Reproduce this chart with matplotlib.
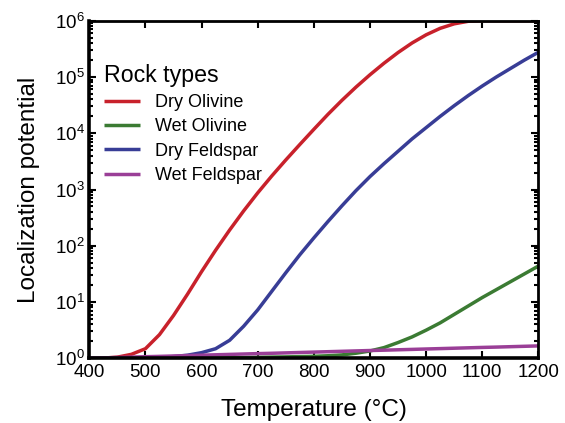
import numpy as np
import matplotlib
matplotlib.use("Agg")
import matplotlib.pyplot as plt
from matplotlib.ticker import LogLocator

plt.rcParams["font.family"] = ["Liberation Sans", "DejaVu Sans"]
plt.rcParams["mathtext.fontset"] = "custom"
plt.rcParams["mathtext.rm"] = "Liberation Sans"
plt.rcParams["mathtext.it"] = "Liberation Sans:italic"

# =========================
# DATA (log10 of localization potential)
# =========================
temperature = [400, 425, 450, 475, 500, 525, 550, 575, 600, 625, 650, 675, 700,
               725, 750, 775, 800, 825, 850, 875, 900, 925, 950, 975, 1000,
               1025, 1050, 1075, 1100, 1125, 1150, 1175, 1200]

dry_olivine = [0.0, 0.003, 0.02, 0.07, 0.17, 0.42, 0.76, 1.14, 1.54, 1.92, 2.28,
               2.62, 2.94, 3.24, 3.525, 3.80, 4.07, 4.335, 4.585, 4.82, 5.04,
               5.245, 5.435, 5.605, 5.75, 5.865, 5.945, 5.99, 6.0, 6.0, 6.0,
               6.0, 6.0]

wet_olivine = [0.0, 0.0, 0.0, 0.0, 0.0, 0.0, 0.0, 0.003, 0.005, 0.007, 0.01, 0.013,
               0.017, 0.021, 0.025, 0.03, 0.035, 0.045, 0.06, 0.09, 0.13, 0.19,
               0.28, 0.38, 0.50, 0.63, 0.78, 0.93, 1.08, 1.22, 1.36, 1.50, 1.64]

dry_feldspar = [0.0, 0.0, 0.0, 0.0, 0.005, 0.015, 0.03, 0.055, 0.10, 0.17, 0.32,
                0.57, 0.86, 1.19, 1.52, 1.84, 2.14, 2.43, 2.71, 2.98, 3.23, 3.46,
                3.68, 3.90, 4.10, 4.30, 4.49, 4.67, 4.84, 5.00, 5.15, 5.30, 5.44]

wet_feldspar = [0.0, 0.007, 0.014, 0.021, 0.028, 0.034, 0.041, 0.048, 0.055,
                0.062, 0.069, 0.076, 0.083, 0.089, 0.096, 0.103, 0.110, 0.117,
                0.124, 0.131, 0.138, 0.144, 0.151, 0.158, 0.165, 0.172, 0.179,
                0.186, 0.193, 0.199, 0.206, 0.213, 0.220]

series = [
    ("Dry Olivine", dry_olivine, "#c8212b"),
    ("Wet Olivine", wet_olivine, "#3b7b33"),
    ("Dry Feldspar", dry_feldspar, "#383d96"),
    ("Wet Feldspar", wet_feldspar, "#9a3f97"),
]

# =========================
# PLOT
# =========================
fig = plt.figure(figsize=(5.65, 4.23), dpi=100)
ax = fig.add_axes([0.158, 0.153, 0.795, 0.798])

for name, logs, color in series:
    ax.plot(temperature, 10 ** np.array(logs), color=color, lw=2.5,
            label=name, solid_capstyle="butt")

ax.set_yscale("log")
ax.set_xlim(400, 1200)
ax.set_ylim(1, 1e6)
ax.set_xticks(range(400, 1201, 100))
ax.yaxis.set_major_locator(LogLocator(base=10, numticks=10))
ax.yaxis.set_minor_locator(LogLocator(base=10, subs=np.arange(2, 10), numticks=10))

ax.tick_params(which="both", direction="in", top=True, right=True,
               labelsize=13.5, width=1.5)
ax.tick_params(which="major", length=5, pad=3)
ax.tick_params(axis="x", which="major", pad=4)
ax.tick_params(which="minor", length=3)
for side in ["left", "bottom", "right", "top"]:
    ax.spines[side].set_linewidth(2.0)
ax.spines["left"].set_linewidth(2.6)
ax.spines["bottom"].set_linewidth(2.6)

ax.set_xlabel("Temperature (°C)", fontsize=17.5, labelpad=13)
ax.set_ylabel("Localization potential", fontsize=17.5, labelpad=11)

leg = ax.legend(title="Rock types", loc="upper left", bbox_to_anchor=(-0.004, 0.92),
                frameon=False, fontsize=13, title_fontsize=16.7,
                handlelength=2.0, handletextpad=0.85, labelspacing=0.4)
leg._legend_box.align = "left"

fig.savefig("out.png", dpi=100)
